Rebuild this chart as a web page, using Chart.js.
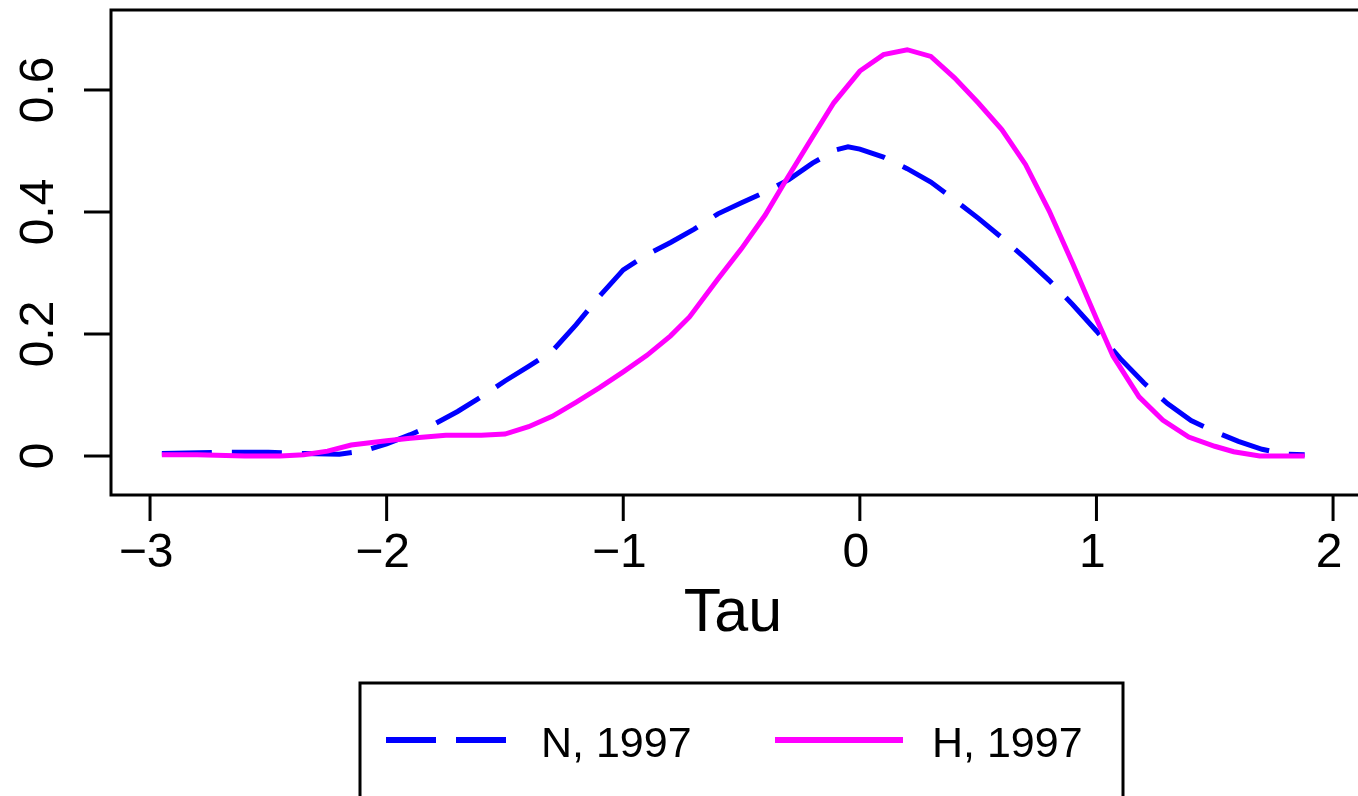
<!DOCTYPE html>
<html lang="en">
<head>
    <meta charset="UTF-8">
    <title>Tau density, 1997</title>
    <script src="https://cdn.jsdelivr.net/npm/chart.js@4.4.1/dist/chart.umd.min.js"></script>
    <style>
        html, body {
            margin: 0;
            padding: 0;
            background: #fff;
            overflow: hidden;
        }
        #wrap {
            position: absolute;
            left: 0;
            top: 0;
            width: 1380px;
            height: 796px;
        }
    </style>
</head>
<body>
    <div id="wrap"><canvas id="grafica"></canvas></div>

    <script>
        // Density estimates of Tau for the two groups
        const tauN = [-2.95, -2.7, -2.5, -2.35, -2.2, -2.1, -2.0, -1.9, -1.8, -1.7, -1.6, -1.5, -1.4, -1.3, -1.2, -1.1, -1.0,
                      -0.9, -0.8, -0.7, -0.6, -0.5, -0.4, -0.3, -0.2, -0.1, -0.05, 0.0, 0.1, 0.2, 0.3, 0.4, 0.5, 0.6, 0.7,
                      0.8, 0.9, 1.0, 1.1, 1.2, 1.3, 1.4, 1.5, 1.6, 1.7, 1.8, 1.88];
        const densN = [0.004, 0.006, 0.006, 0.004, 0.003, 0.008, 0.02, 0.035, 0.052, 0.073, 0.097, 0.123, 0.147, 0.172, 0.215, 0.262, 0.305,
                       0.33, 0.35, 0.372, 0.397, 0.415, 0.433, 0.453, 0.48, 0.502, 0.507, 0.503, 0.49, 0.471, 0.449, 0.42, 0.39, 0.358, 0.324,
                       0.288, 0.248, 0.205, 0.16, 0.12, 0.086, 0.058, 0.04, 0.024, 0.011, 0.003, 0.002];

        const tauH = [-2.95, -2.8, -2.6, -2.45, -2.35, -2.25, -2.15, -2.0, -1.9, -1.75, -1.6, -1.5, -1.4, -1.3, -1.2, -1.1, -1.0,
                      -0.9, -0.8, -0.72, -0.6, -0.5, -0.4, -0.32, -0.2, -0.11, 0.0, 0.1, 0.2, 0.3, 0.4, 0.5, 0.6, 0.7,
                      0.8, 0.9, 1.0, 1.07, 1.18, 1.28, 1.39, 1.5, 1.58, 1.69, 1.88];
        const densH = [0.002, 0.002, 0.0, 0.0, 0.002, 0.008, 0.018, 0.025, 0.029, 0.034, 0.034, 0.036, 0.048, 0.065, 0.088, 0.112, 0.138,
                       0.165, 0.197, 0.228, 0.29, 0.34, 0.395, 0.447, 0.523, 0.579, 0.631, 0.658, 0.666, 0.655, 0.62, 0.579, 0.535, 0.478,
                       0.402, 0.315, 0.225, 0.164, 0.097, 0.059, 0.031, 0.016, 0.007, 0.0, 0.0];

        const xTicks = [-3, -2, -1, 0, 1, 2];
        const yTicks = [0, 0.2, 0.4, 0.6];
        const yTickLabels = ['0', '0.2', '0.4', '0.6'];
        const serieNames = ['N, 1997', 'H, 1997'];

        const fuente = '"Liberation Sans", Arial, Helvetica, sans-serif';

        function puntos(xs, ys) {
            return xs.map((x, i) => ({ x: x, y: ys[i] }));
        }

        // Axes, box, labels and legend drawn R-style
        const ejesR = {
            id: 'ejesR',
            afterDraw(chart) {
                const ctx = chart.ctx;
                const area = chart.chartArea;
                const sx = chart.scales.x;
                const sy = chart.scales.y;
                ctx.save();
                ctx.strokeStyle = '#000';
                ctx.fillStyle = '#000';
                ctx.lineWidth = 3;
                ctx.setLineDash([]);
                ctx.strokeRect(area.left, area.top, area.right - area.left, area.bottom - area.top);

                // x axis
                ctx.font = '48px ' + fuente;
                ctx.textAlign = 'center';
                ctx.textBaseline = 'alphabetic';
                xTicks.forEach(v => {
                    const px = sx.getPixelForValue(v);
                    ctx.beginPath();
                    ctx.moveTo(px, area.bottom);
                    ctx.lineTo(px, area.bottom + 26);
                    ctx.stroke();
                    const txt = v < 0 ? '\u2212' + Math.abs(v) : String(v);
                    ctx.fillText(txt, px - 4, 567);
                });

                // y axis, labels rotated
                yTicks.forEach((v, i) => {
                    const py = sy.getPixelForValue(v);
                    ctx.beginPath();
                    ctx.moveTo(area.left - 27, py);
                    ctx.lineTo(area.left, py);
                    ctx.stroke();
                    ctx.save();
                    ctx.translate(53, py);
                    ctx.rotate(-Math.PI / 2);
                    ctx.fillText(yTickLabels[i], 0, 0);
                    ctx.restore();
                });

                ctx.font = '61px ' + fuente;
                ctx.fillText('Tau', 733, 631);

                // legend box
                ctx.lineWidth = 3;
                ctx.strokeRect(360, 683, 763, 140);
                ctx.font = '43px ' + fuente;
                ctx.textAlign = 'left';
                const filas = [
                    { x0: 386, x1: 506, tx: 541 },
                    { x0: 775, x1: 903, tx: 932 }
                ];
                chart.data.datasets.forEach((ds, i) => {
                    const f = filas[i];
                    ctx.strokeStyle = ds.borderColor;
                    ctx.lineWidth = 6;
                    ctx.lineCap = 'butt';
                    ctx.setLineDash(ds.borderDash || []);
                    ctx.beginPath();
                    ctx.moveTo(f.x0, 740);
                    ctx.lineTo(f.x1, 740);
                    ctx.stroke();
                    ctx.setLineDash([]);
                    ctx.fillStyle = '#000';
                    ctx.fillText(ds.label, f.tx, 757);
                });
                ctx.restore();
            }
        };

        const grafica = new Chart(document.getElementById('grafica'), {
            type: 'line',
            data: {
                datasets: [{
                    label: serieNames[0],
                    data: puntos(tauN, densN),
                    borderColor: '#0000ff',
                    borderWidth: 5,
                    borderDash: [50, 20],
                    borderCapStyle: 'butt',
                    pointRadius: 0,
                    tension: 0,
                    fill: false,
                    order: 2
                }, {
                    label: serieNames[1],
                    data: puntos(tauH, densH),
                    borderColor: '#ff00ff',
                    borderWidth: 5,
                    pointRadius: 0,
                    tension: 0,
                    fill: false,
                    order: 1
                }]
            },
            options: {
                responsive: true,
                maintainAspectRatio: false,
                animation: false,
                layout: {
                    padding: { left: 111, top: 10, right: 15, bottom: 301 }
                },
                plugins: {
                    legend: { display: false },
                    tooltip: { enabled: false }
                },
                scales: {
                    x: {
                        type: 'linear',
                        min: -3.165,
                        max: 2.135,
                        display: false
                    },
                    y: {
                        min: -0.0639,
                        max: 0.7311,
                        display: false
                    }
                }
            },
            plugins: [ejesR]
        });
    </script>
</body>
</html>
